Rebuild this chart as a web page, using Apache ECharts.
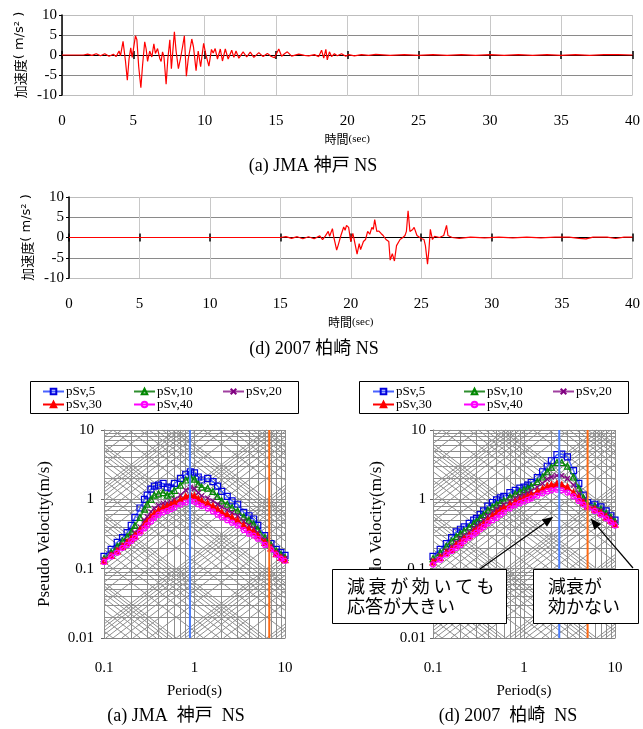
<!DOCTYPE html>
<html>
<head>
<meta charset="utf-8">
<script src="https://cdn.jsdelivr.net/npm/echarts@6/dist/echarts.min.js"></script>
<style>
html, body { margin: 0; padding: 0; background: #fff; }
#chart { width: 643px; height: 729px; }
</style>
</head>
<body>
<div id="chart"></div>
<script>
// 加速度波形 (JMA 神戸 NS)
var kobeTime = [0, 1.5, 1.8, 2.1, 2.4, 2.7, 3.0, 3.3, 3.6, 3.8, 4.0, 4.1, 4.28, 4.45, 4.58, 4.7, 4.82, 4.92, 5.15, 5.25, 5.38, 5.53, 5.65, 5.8, 5.9, 6.0, 6.15, 6.3, 6.44, 6.55, 6.7, 6.85, 6.95, 7.05, 7.15, 7.3, 7.42, 7.56, 7.67, 7.76, 7.88, 8.0, 8.16, 8.3, 8.45, 8.58, 8.72, 8.85, 8.98, 9.1, 9.22, 9.4, 9.55, 9.72, 9.93, 10.08, 10.3, 10.48, 10.6, 10.74, 10.9, 11.1, 11.25, 11.45, 11.65, 11.9, 12.05, 12.2, 12.4, 12.7, 12.95, 13.2, 13.45, 13.8, 14.1, 14.4, 14.65, 14.9, 15.2, 15.4, 15.6, 15.8, 16.1, 16.6, 17.0, 17.3, 17.7, 18.0, 18.2, 18.35, 18.5, 18.6, 18.75, 18.9, 19.1, 19.3, 19.6, 19.9, 20.1, 20.5, 21, 21.5, 22, 23, 24, 25, 26, 27, 28, 29, 30, 31, 32, 33, 34, 35, 36, 37, 38, 39, 40];
var kobeAcc = [0, 0, 0.2, -0.1, 0.3, -0.2, 0.3, -0.3, 0.2, -0.4, 1.0, -0.2, 3.4, -1.5, -6.3, -1.0, 1.8, -0.6, 4.8, 3.8, -3.0, -8.2, -2.5, 3.3, 1.5, -1.6, 1.0, -0.5, 2.8, 0.4, 1.6, -0.8, -1.6, 0.8, -0.5, -7.3, -1.0, 3.8, -3.4, 0.5, 5.8, 1.0, -3.4, -1.0, 2.0, 4.8, -5.3, -1.0, 1.5, 4.0, 2.0, -3.9, 1.0, -2.9, 2.9, 0.2, -2.8, 1.4, 0.5, 1.6, -1.0, 1.5, -1.5, 1.5, -1.0, 1.2, -0.6, 1.0, -0.8, 0.8, -0.5, 0.7, -0.6, 0.6, -0.4, 0.4, -0.3, -0.7, 1.5, -0.3, 0.3, 0.8, -0.3, 0.2, -0.1, -0.2, 0.1, -0.4, 1.2, -0.8, 1.4, -1.2, 0.8, -0.4, 0.3, -0.2, 0.3, -0.3, 0.1, -0.2, 0.1, -0.1, 0.15, -0.1, 0.1, -0.1, 0.1, -0.1, 0.1, -0.1, 0.1, -0.1, 0.1, -0.1, 0.1, -0.1, 0.1, -0.1, 0.1, 0.1, 0];

// 加速度波形 (2007 柏崎 NS)
var kashiTime = [0, 15, 15.4, 15.8, 16.2, 16.6, 17.0, 17.4, 17.8, 18.0, 18.2, 18.4, 18.5, 18.7, 18.8, 18.9, 19.0, 19.1, 19.3, 19.5, 19.6, 19.7, 19.85, 20.0, 20.15, 20.3, 20.45, 20.6, 20.7, 20.9, 21.05, 21.2, 21.35, 21.5, 21.6, 21.7, 21.85, 22.0, 22.15, 22.3, 22.5, 22.7, 22.8, 22.95, 23.1, 23.25, 23.5, 23.7, 23.85, 23.95, 24.07, 24.2, 24.4, 24.5, 24.7, 24.9, 25.05, 25.2, 25.3, 25.45, 25.55, 25.65, 25.8, 25.95, 26.3, 26.6, 26.8, 26.9, 27.2, 27.7, 28.5, 29.5, 30.5, 31.5, 32.5, 33.5, 34.5, 35.5, 36.2, 36.7, 37.2, 38.2, 38.8, 39.4, 40];
var kashiAcc = [0, 0, 0.2, -0.2, 0.2, -0.3, 0.2, -0.3, 0.4, -0.5, 0.4, 1.5, 0.3, 2.2, 0.0, -1.5, -3.1, -2.0, 0.5, 2.6, 1.8, 3.0, 2.5, -1.0, 1.0, -1.5, -4.1, -1.5, -3.0, -1.0, -0.5, 1.5, 0.8, 2.5, 2.0, 4.4, 1.5, 1.6, 1.0, 0.5, -0.5, -1.0, -5.6, -4.0, -5.8, -2.0, -0.5, 0.0, 0.5, 1.5, 6.6, 1.5, 2.0, 2.5, 0.5, 0.0, -0.3, -0.5, -2.0, -6.6, -3.0, 2.0, -0.5, 0.3, 0.0, 0.5, 3.0, 0.5, 0.0, -0.2, 0.1, -0.1, 0.1, -0.1, 0.1, -0.1, 0.1, 0.1, -0.2, -0.35, 0.1, 0.1, -0.25, 0.1, 0.1];

var timeTicks = [0, 40, 5];
var accTicks = [-10, 10, 5];

// 擬似速度応答スペクトル
var periods = [0.1, 0.12, 0.14, 0.16, 0.18, 0.2, 0.22, 0.25, 0.28, 0.3, 0.33, 0.36, 0.4, 0.45, 0.5, 0.55, 0.6, 0.7, 0.8, 0.9, 1.0, 1.1, 1.2, 1.4, 1.6, 1.8, 2.0, 2.3, 2.6, 3.0, 3.5, 4.0, 4.5, 5.0, 6.0, 7.0, 8.0, 9.0, 10.0];
var seriesNames = ['pSv,5', 'pSv,10', 'pSv,20', 'pSv,30', 'pSv,40'];

var kobe5  = [0.15, 0.19, 0.24, 0.28, 0.33, 0.42, 0.55, 0.75, 1.0, 1.15, 1.4, 1.55, 1.6, 1.7, 1.5, 1.45, 1.7, 2.0, 2.3, 2.5, 2.4, 2.1, 1.9, 2.0, 1.8, 1.55, 1.3, 1.1, 0.95, 0.85, 0.65, 0.58, 0.52, 0.42, 0.3, 0.23, 0.19, 0.17, 0.155];
var kobe10 = [0.14, 0.17, 0.21, 0.25, 0.29, 0.34, 0.42, 0.55, 0.72, 0.85, 1.0, 1.15, 1.2, 1.25, 1.15, 1.2, 1.35, 1.6, 1.9, 2.1, 1.95, 1.65, 1.5, 1.45, 1.3, 1.1, 0.95, 0.85, 0.76, 0.68, 0.56, 0.5, 0.44, 0.37, 0.28, 0.22, 0.18, 0.16, 0.145];
var kobe20 = [0.135, 0.16, 0.19, 0.22, 0.25, 0.29, 0.33, 0.4, 0.5, 0.56, 0.66, 0.74, 0.82, 0.88, 0.88, 0.92, 1.0, 1.15, 1.35, 1.5, 1.42, 1.25, 1.12, 1.04, 0.95, 0.85, 0.78, 0.7, 0.64, 0.58, 0.48, 0.42, 0.38, 0.33, 0.26, 0.21, 0.17, 0.15, 0.14];
var kobe30 = [0.13, 0.155, 0.18, 0.21, 0.24, 0.27, 0.3, 0.36, 0.43, 0.48, 0.56, 0.63, 0.7, 0.76, 0.8, 0.84, 0.9, 1.0, 1.1, 1.17, 1.12, 1.02, 0.95, 0.88, 0.8, 0.72, 0.65, 0.6, 0.55, 0.5, 0.42, 0.37, 0.34, 0.3, 0.24, 0.2, 0.165, 0.145, 0.135];
var kobe40 = [0.125, 0.15, 0.17, 0.2, 0.22, 0.25, 0.28, 0.33, 0.38, 0.42, 0.48, 0.54, 0.6, 0.65, 0.68, 0.72, 0.76, 0.84, 0.9, 0.95, 0.92, 0.85, 0.8, 0.74, 0.67, 0.6, 0.55, 0.5, 0.46, 0.42, 0.36, 0.32, 0.3, 0.27, 0.22, 0.19, 0.16, 0.14, 0.13];

var kashi5  = [0.15, 0.19, 0.23, 0.28, 0.34, 0.37, 0.4, 0.45, 0.5, 0.53, 0.6, 0.68, 0.8, 0.9, 0.98, 1.05, 1.1, 1.25, 1.35, 1.45, 1.5, 1.6, 1.75, 2.05, 2.5, 3.0, 3.6, 4.4, 4.5, 4.1, 2.6, 1.7, 1.15, 0.9, 0.85, 0.78, 0.68, 0.58, 0.5];
var kashi10 = [0.14, 0.17, 0.21, 0.25, 0.29, 0.32, 0.35, 0.4, 0.45, 0.48, 0.54, 0.6, 0.7, 0.78, 0.85, 0.9, 0.96, 1.08, 1.2, 1.3, 1.38, 1.45, 1.55, 1.8, 2.1, 2.5, 2.9, 3.4, 3.4, 3.0, 2.1, 1.45, 1.05, 0.85, 0.8, 0.72, 0.63, 0.55, 0.48];
var kashi20 = [0.13, 0.155, 0.18, 0.21, 0.24, 0.27, 0.3, 0.34, 0.38, 0.41, 0.45, 0.5, 0.58, 0.66, 0.72, 0.78, 0.84, 0.94, 1.03, 1.1, 1.17, 1.24, 1.32, 1.5, 1.7, 1.95, 2.1, 2.2, 2.2, 2.0, 1.6, 1.2, 0.95, 0.82, 0.76, 0.68, 0.6, 0.52, 0.46];
var kashi30 = [0.125, 0.145, 0.17, 0.19, 0.22, 0.24, 0.27, 0.3, 0.34, 0.36, 0.4, 0.44, 0.5, 0.58, 0.64, 0.7, 0.75, 0.84, 0.92, 0.98, 1.04, 1.1, 1.16, 1.3, 1.42, 1.55, 1.62, 1.68, 1.62, 1.5, 1.25, 1.05, 0.9, 0.8, 0.72, 0.64, 0.56, 0.5, 0.44];
var kashi40 = [0.115, 0.135, 0.16, 0.18, 0.2, 0.22, 0.25, 0.28, 0.31, 0.33, 0.37, 0.4, 0.45, 0.5, 0.54, 0.6, 0.65, 0.74, 0.82, 0.88, 0.93, 0.98, 1.03, 1.13, 1.22, 1.3, 1.35, 1.38, 1.35, 1.25, 1.1, 0.95, 0.84, 0.76, 0.68, 0.6, 0.53, 0.47, 0.42];

// 縦線 (周期)
var kobeMarkPeriods = [0.89, 6.7];
var kashiMarkPeriods = [2.44, 5.0];

var periodRange = [0.1, 10];
var velocityRange = [0.01, 10];
var gridMantissa = [1, 2, 3, 4, 5, 6, 7, 8, 9];
var gridDecades = [-4, -3, -2, -1, 0, 1, 2];

// 注記: 矢印の先 (周期, 速度)
var noteTips = [[2.1, 0.56], [5.4, 0.53]];

var SERIF = "'Liberation Serif', 'Noto Sans CJK JP'";
var GOTHIC = "'Noto Sans CJK JP'";

var chart = echarts.init(document.getElementById('chart'));

function pairs(xs, ys) {
    return xs.map(function (x, i) { return [x, ys[i]]; });
}

// トリパタイト用の格子 (速度・加速度・変位)
function tripartiteLines() {
    var lx0 = Math.log10(periodRange[0]), lx1 = Math.log10(periodRange[1]);
    var ly0 = Math.log10(velocityRange[0]), ly1 = Math.log10(velocityRange[1]);
    var l2pi = Math.log10(2 * Math.PI);
    var out = [];
    var vals = [];
    gridDecades.forEach(function (k) {
        gridMantissa.forEach(function (m) { vals.push(m * Math.pow(10, k)); });
    });
    vals.forEach(function (v) {
        var lv = Math.log10(v);
        if (lv >= lx0 - 1e-9 && lv <= lx1 + 1e-9) out.push([[v, velocityRange[0]], [v, velocityRange[1]]]);
        if (lv >= ly0 - 1e-9 && lv <= ly1 + 1e-9) out.push([[periodRange[0], v], [periodRange[1], v]]);
        var b = lv - l2pi;
        var a0 = Math.max(lx0, ly0 - b), a1 = Math.min(lx1, ly1 - b);
        if (a1 - a0 > 1e-6) out.push([[Math.pow(10, a0), Math.pow(10, a0 + b)], [Math.pow(10, a1), Math.pow(10, a1 + b)]]);
        var c = lv + l2pi;
        var d0 = Math.max(lx0, c - ly1), d1 = Math.min(lx1, c - ly0);
        if (d1 - d0 > 1e-6) out.push([[Math.pow(10, d0), Math.pow(10, c - d0)], [Math.pow(10, d1), Math.pow(10, c - d1)]]);
    });
    return out.map(function (c) { return { coords: c }; });
}

var pSvStyles = [
    { line: '#4a63ff', mark: '#0000dd', symbol: 'rect', size: 6, fill: 'rgba(0,0,0,0)' },
    { line: '#2f8f2f', mark: '#008800', symbol: 'triangle', size: 6, fill: 'rgba(0,0,0,0)' },
    { line: '#a040a0', mark: '#800080', symbol: 'path://M0,0L10,10M10,0L0,10', size: 5, fill: 'none' },
    { line: '#ff0000', mark: '#ff0000', symbol: 'triangle', size: 6, fill: '#ff0000' },
    { line: '#ff00ff', mark: '#ff00ff', symbol: 'circle', size: 5, fill: 'rgba(0,0,0,0)' }
];

function spectraSeries(axisIdx, lists, marks) {
    var out = [{
        type: 'lines', coordinateSystem: 'cartesian2d',
        xAxisIndex: axisIdx + 2, yAxisIndex: axisIdx, silent: true, z: 1,
        lineStyle: { color: '#8e8e8e', width: 1, opacity: 1 },
        data: tripartiteLines()
    }];
    lists.forEach(function (vals, i) {
        var s = pSvStyles[i];
        out.push({
            name: seriesNames[i], type: 'line',
            xAxisIndex: axisIdx + 2, yAxisIndex: axisIdx, z: 3 + i,
            symbol: s.symbol, symbolSize: s.size, showAllSymbol: true,
            lineStyle: { color: s.line, width: 1.5 },
            itemStyle: { color: s.fill, borderColor: s.mark, borderWidth: 1.2 },
            data: pairs(periods, vals)
        });
    });
    var colors = ['#4a7dff', '#ff6a13'];
    marks.forEach(function (t, i) {
        out.push({
            type: 'line', xAxisIndex: axisIdx + 2, yAxisIndex: axisIdx, z: 10,
            symbol: 'none', silent: true,
            lineStyle: { color: colors[i], width: 2 },
            data: [[t, velocityRange[0]], [t, velocityRange[1]]]
        });
    });
    return out;
}

function waveXAxes(gridIndex, yIndex) {
    return [{
        type: 'value', gridIndex: gridIndex, min: timeTicks[0], max: timeTicks[1], interval: timeTicks[2],
        axisLine: { onZero: true, onZeroAxisIndex: yIndex, lineStyle: { color: '#000', width: 1 } },
        axisTick: { show: true, length: 4, lineStyle: { color: '#000', width: 1.5 } },
        axisLabel: { margin: 19, fontSize: 15, color: '#000', fontFamily: SERIF },
        splitLine: { show: true, lineStyle: { color: '#c8c8c8', width: 1 } },
        name: '{a|時間}{b|(sec)}', nameLocation: 'middle', nameGap: 38,
        nameTextStyle: { rich: { a: { fontSize: 12, fontFamily: GOTHIC, color: '#000' }, b: { fontSize: 11, fontFamily: SERIF, color: '#000' } } }
    }, {
        type: 'value', gridIndex: gridIndex, position: 'top', min: timeTicks[0], max: timeTicks[1], interval: timeTicks[2],
        axisLine: { onZero: true, onZeroAxisIndex: yIndex, lineStyle: { color: '#000', width: 1 } },
        axisTick: { show: true, length: 4, lineStyle: { color: '#000', width: 1.5 } },
        axisLabel: { show: false }, splitLine: { show: false }
    }];
}

function waveYAxis(gridIndex) {
    return {
        type: 'value', gridIndex: gridIndex, min: accTicks[0], max: accTicks[1], interval: accTicks[2],
        axisLine: { show: true, onZero: false, lineStyle: { color: '#000', width: 1.5 } },
        axisTick: { show: true, length: 3, lineStyle: { color: '#000' } },
        axisLabel: { margin: 5, fontSize: 15, color: '#000', fontFamily: SERIF },
        splitLine: { show: true, lineStyle: { color: ['#bdbdbd', '#8a8a8a', '#8a8a8a', '#8a8a8a', '#bdbdbd'], width: 1 } },
        name: '{a|加速度}{b|( m/s² )}', nameLocation: 'middle', nameGap: 33,
        nameTextStyle: { rich: { a: { fontSize: 13, fontFamily: GOTHIC, color: '#000' }, b: { fontSize: 13, fontFamily: "'DejaVu Sans'", color: '#000' } } }
    };
}

function specXAxis(gridIndex) {
    return {
        type: 'log', logBase: 10, gridIndex: gridIndex, min: periodRange[0], max: periodRange[1],
        axisLine: { show: true, onZero: false, lineStyle: { color: '#777' } },
        axisTick: { show: false }, splitLine: { show: false },
        axisLabel: { margin: 23, fontSize: 15, color: '#000', fontFamily: SERIF },
        name: 'Period(s)', nameLocation: 'middle', nameGap: 46,
        nameTextStyle: { fontSize: 15, fontFamily: SERIF, color: '#000' }
    };
}

function specYAxis(gridIndex, gap, margin) {
    return {
        type: 'log', logBase: 10, gridIndex: gridIndex, min: velocityRange[0], max: velocityRange[1],
        axisLine: { show: true, onZero: false, lineStyle: { color: '#666' } },
        axisTick: { show: true, length: 3, lineStyle: { color: '#666' } }, splitLine: { show: false },
        axisLabel: { margin: margin, fontSize: 15, color: '#000', fontFamily: SERIF },
        name: 'Pseudo Velocity(m/s)', nameLocation: 'middle', nameGap: gap,
        nameTextStyle: { fontSize: 17, fontFamily: SERIF, color: '#000' }
    };
}

function legendCol(left, names) {
    return {
        orient: 'vertical', left: left, top: 385, itemGap: 0, itemWidth: 21, itemHeight: 7,
        padding: 0, selectedMode: false, data: names,
        textStyle: { fontFamily: SERIF, fontSize: 13, lineHeight: 13, color: '#000', padding: [0, 0, 0, -3] }
    };
}

function subtitle(text, x, y) {
    return {
        type: 'text', z: 100, x: x, y: y,
        style: { text: text, fontSize: 18, fontFamily: SERIF, fill: '#000', align: 'center', verticalAlign: 'middle' }
    };
}

var series = [
    { type: 'line', xAxisIndex: 0, yAxisIndex: 0, symbol: 'none', z: 5, lineStyle: { color: '#ff0000', width: 1.2 }, data: pairs(kobeTime, kobeAcc) },
    { type: 'line', xAxisIndex: 2, yAxisIndex: 1, symbol: 'none', z: 5, lineStyle: { color: '#ff0000', width: 1.2 }, data: pairs(kashiTime, kashiAcc) }
].concat(
    spectraSeries(2, [kobe5, kobe10, kobe20, kobe30, kobe40], kobeMarkPeriods),
    spectraSeries(3, [kashi5, kashi10, kashi20, kashi30, kashi40], kashiMarkPeriods)
);

var option = {
    animation: false,
    backgroundColor: '#fff',
    textStyle: { fontFamily: SERIF },
    grid: [
        { left: 62, top: 15, width: 573, height: 80 },
        { left: 69, top: 197, width: 564, height: 81 },
        { left: 104, top: 430, width: 181, height: 208 },
        { left: 433, top: 430, width: 182, height: 208 }
    ],
    xAxis: waveXAxes(0, 0).concat(waveXAxes(1, 1), [specXAxis(2), specXAxis(3)]),
    yAxis: [waveYAxis(0), waveYAxis(1), specYAxis(2, 51, 10), specYAxis(3, 48, 7)],
    legend: [
        legendCol(42, ['pSv,5', 'pSv,30']),
        legendCol(133, ['pSv,10', 'pSv,40']),
        legendCol(222, ['pSv,20']),
        legendCol(372, ['pSv,5', 'pSv,30']),
        legendCol(463, ['pSv,10', 'pSv,40']),
        legendCol(552, ['pSv,20'])
    ],
    series: series,
    graphic: [
        { type: 'rect', z: 100, shape: { x: 30.5, y: 381.5, width: 268, height: 32 }, style: { fill: 'none', stroke: '#000', lineWidth: 1 } },
        { type: 'rect', z: 100, shape: { x: 359.5, y: 381.5, width: 269, height: 32 }, style: { fill: 'none', stroke: '#000', lineWidth: 1 } },
        subtitle('(a) JMA 神戸 NS', 313, 166),
        subtitle('(d) 2007 柏崎 NS', 314, 349),
        subtitle('(a) JMA  神戸  NS', 176, 716),
        subtitle('(d) 2007  柏崎  NS', 508, 716)
    ]
};
chart.setOption(option);

// 注記ボックスと矢印
var noteBoxes = [
    { x: 332, y: 569, w: 174, h: 54, tail: [480, 569], lines: ['減\u2009衰\u2009が\u2009効\u2009い\u2009て\u2009も', '応答が大きい'] },
    { x: 533, y: 569, w: 105, h: 54, tail: [633, 568], lines: ['減衰が', '効かない'] }
];
var notes = [];
noteBoxes.forEach(function (b, i) {
    var tip = chart.convertToPixel({ gridIndex: 3 }, noteTips[i]);
    var dx = tip[0] - b.tail[0], dy = tip[1] - b.tail[1];
    var len = Math.sqrt(dx * dx + dy * dy), ux = dx / len, uy = dy / len;
    var hl = 11, hw = 4.5;
    var bx = tip[0] - ux * hl, by = tip[1] - uy * hl;
    notes.push({ type: 'line', z: 110, shape: { x1: b.tail[0], y1: b.tail[1], x2: bx, y2: by }, style: { stroke: '#000', lineWidth: 1.2 } });
    notes.push({ type: 'polygon', z: 110, shape: { points: [[tip[0], tip[1]], [bx - uy * hw, by + ux * hw], [bx + uy * hw, by - ux * hw]] }, style: { fill: '#000' } });
    notes.push({ type: 'rect', z: 105, shape: { x: b.x + 0.5, y: b.y + 0.5, width: b.w, height: b.h }, style: { fill: '#fff', stroke: '#000', lineWidth: 1 } });
    b.lines.forEach(function (t, j) {
        notes.push({ type: 'text', z: 106, x: b.x + 15, y: b.y + 17 + j * 20,
            style: { text: t, fontSize: 18, fontFamily: GOTHIC, fill: '#000', align: 'left', verticalAlign: 'middle' } });
    });
});
chart.setOption({ graphic: option.graphic.concat(notes) });
</script>
</body>
</html>
